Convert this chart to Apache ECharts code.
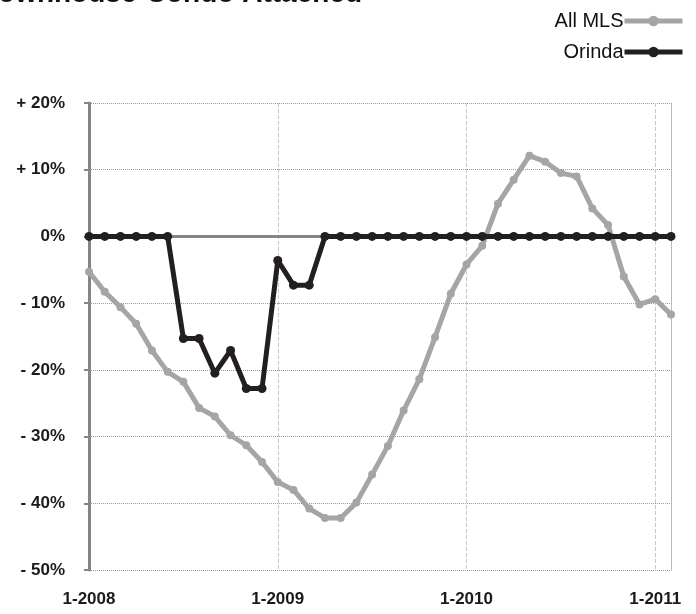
<!DOCTYPE html>
<html>
<head>
<meta charset="utf-8">
<script src="https://cdn.jsdelivr.net/npm/echarts@6/dist/echarts.min.js"></script>
<style>
html,body{margin:0;padding:0;background:#fff;}
#chart{width:696px;height:614px;}
</style>
</head>
<body>
<div id="chart"></div>
<script>
const titleText = 'Townhouse-Condo Attached';
const months = [
  '1-2008','2-2008','3-2008','4-2008','5-2008','6-2008','7-2008','8-2008','9-2008','10-2008','11-2008','12-2008',
  '1-2009','2-2009','3-2009','4-2009','5-2009','6-2009','7-2009','8-2009','9-2009','10-2009','11-2009','12-2009',
  '1-2010','2-2010','3-2010','4-2010','5-2010','6-2010','7-2010','8-2010','9-2010','10-2010','11-2010','12-2010',
  '1-2011','2-2011'
];
const allMLS = [
  -5.3, -8.3, -10.6, -13.1, -17.1, -20.3, -21.8, -25.7, -27.0, -29.8, -31.3, -33.8,
  -36.8, -38.0, -40.8, -42.2, -42.2, -39.9, -35.7, -31.4, -26.1, -21.4, -15.1, -8.6,
  -4.2, -1.4, 4.9, 8.5, 12.1, 11.2, 9.5, 9.0, 4.2, 1.7, -6.0, -10.2,
  -9.4, -11.7
];
const orinda = [
  0, 0, 0, 0, 0, 0, -15.3, -15.3, -20.5, -17.1, -22.8, -22.8,
  -3.6, -7.3, -7.3, 0, 0, 0, 0, 0, 0, 0, 0, 0,
  0, 0, 0, 0, 0, 0, 0, 0, 0, 0, 0, 0,
  0, 0
];
const yTickValues = [-50, -40, -30, -20, -10, 0, 10, 20];
const yTickLabels = ['- 50%', '- 40%', '- 30%', '- 20%', '- 10%', '0%', '+ 10%', '+ 20%'];

const FONT = '"Liberation Sans", Arial, Helvetica, sans-serif';
const chart = echarts.init(document.getElementById('chart'), null, {renderer: 'canvas'});
chart.setOption({
  backgroundColor: '#fff',
  animation: false,
  graphic: [{
    type: 'text',
    x: -17,
    y: 8,
    style: {
      text: titleText,
      font: 'bold 28px ' + FONT,
      fill: '#111',
      verticalAlign: 'bottom',
      align: 'left'
    }
  }],
  legend: {
    orient: 'vertical',
    right: 6,
    top: 6,
    align: 'right',
    itemWidth: 58,
    itemHeight: 13,
    itemGap: 11,
    lineStyle: {width: 5},
    textStyle: {fontFamily: FONT, fontSize: 20, color: '#111', padding: [0, -4, 0, 0]},
    data: ['All MLS', 'Orinda']
  },
  grid: {left: 89, right: 25, top: 103, bottom: 44, containLabel: false},
  xAxis: {
    type: 'category',
    data: months,
    boundaryGap: false,
    axisLine: {show: false},
    axisTick: {show: false},
    axisLabel: {
      interval: 11,
      margin: 21,
      fontFamily: FONT,
      fontSize: 17,
      fontWeight: 'bold',
      color: '#1a1a1a'
    },
    splitLine: {
      show: true,
      interval: function (i) { return i > 0 && i % 12 === 0; },
      lineStyle: {color: '#c8c8c8', width: 1, type: 'dashed'}
    }
  },
  yAxis: [{
    type: 'value',
    min: -50,
    max: 20,
    interval: 10,
    axisLine: {show: true, lineStyle: {color: '#858585', width: 3}},
    axisTick: {show: true, length: 5, lineStyle: {color: '#858585', width: 2}},
    axisLabel: {
      margin: 24,
      fontFamily: FONT,
      fontSize: 17,
      fontWeight: 'bold',
      color: '#1a1a1a',
      formatter: function (v) { const k = yTickValues.indexOf(v); return k >= 0 ? yTickLabels[k] : ''; }
    },
    splitLine: {show: true, lineStyle: {color: '#999', width: 1, type: 'dotted'}}
  }, {
    type: 'value',
    position: 'right',
    min: -50,
    max: 20,
    interval: 10,
    axisLine: {show: true, lineStyle: {color: '#aaa', width: 1, type: 'dotted'}},
    axisTick: {show: false},
    axisLabel: {show: false},
    splitLine: {show: false}
  }],
  series: [{
    name: 'All MLS',
    type: 'line',
    data: allMLS,
    color: '#a5a5a5',
    lineStyle: {color: '#a5a5a5', width: 5},
    itemStyle: {color: '#a5a5a5'},
    symbol: 'circle',
    symbolSize: 8,
    z: 2,
    markLine: {
      silent: true,
      symbol: 'none',
      label: {show: false},
      lineStyle: {color: '#858585', width: 3, type: 'solid'},
      data: [{yAxis: 0}],
      z: 1
    }
  }, {
    name: 'Orinda',
    type: 'line',
    data: orinda,
    color: '#231f20',
    lineStyle: {color: '#231f20', width: 5},
    itemStyle: {color: '#231f20'},
    symbol: 'circle',
    symbolSize: 9,
    z: 3
  }]
});
</script>
</body>
</html>
